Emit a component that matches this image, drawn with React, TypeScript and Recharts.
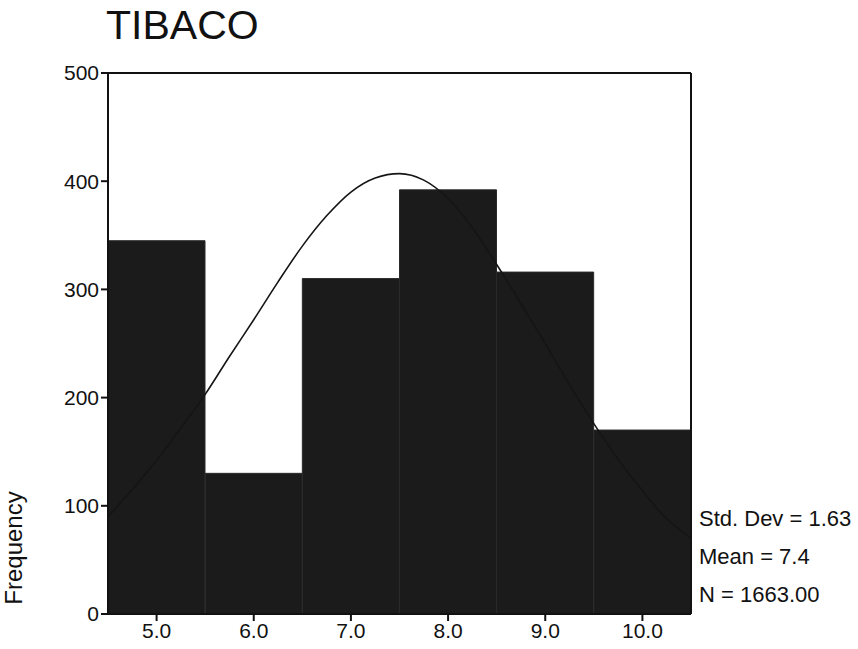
import React from 'react';
import { ComposedChart, Bar, Line, XAxis, YAxis, ReferenceLine } from 'recharts';

// histogram bins (class midpoints) and counts
const binLabels = ['5.0', '6.0', '7.0', '8.0', '9.0', '10.0'];
const binCounts = [345, 130, 310, 392, 316, 170];

// fitted normal curve
const curveX = [4.5, 4.75, 5.0, 5.25, 5.5, 5.75, 6.0, 6.25, 6.5, 6.75, 7.0, 7.25, 7.5, 7.75, 8.0, 8.25, 8.5, 8.75, 9.0, 9.25, 9.5, 9.75, 10.0, 10.25, 10.5];
const curveY = [90, 115, 142, 172, 203, 238, 272, 307, 340, 368, 390, 403, 407, 401, 384, 357, 323, 287, 250, 212, 176, 143, 114, 88, 70];

const yTicks = [0, 100, 200, 300, 400, 500];
const stats = ['Std. Dev = 1.63', 'Mean = 7.4', 'N = 1663.00'];

const bins = binLabels.map((bin, i) => ({ bin, count: binCounts[i] }));
const curve = curveX.map((x, i) => ({ x, y: curveY[i] }));

const font = '"Liberation Sans", Arial, sans-serif';
const tickStyle = { fontSize: 21, fill: '#111', fontFamily: font };

const App: React.FC = () => {
  return (
    <div style={{ position: 'absolute', left: 0, top: 0, width: 858, height: 649, background: '#fff', fontFamily: font }}>
      <div style={{ position: 'absolute', left: 106, top: 2, fontSize: 41, lineHeight: '47px', color: '#111' }}>TIBACO</div>
      <div
        style={{
          position: 'absolute', left: 14, top: 548, fontSize: 24, color: '#111',
          transform: 'translate(-50%, -50%) rotate(-90deg)', whiteSpace: 'nowrap',
        }}
      >
        Frequency
      </div>
      {stats.map((s, i) => (
        <div key={s} style={{ position: 'absolute', left: 699, top: 505 + i * 38, fontSize: 22, lineHeight: '27px', color: '#111', whiteSpace: 'nowrap' }}>
          {s}
        </div>
      ))}
      <ComposedChart
        width={858}
        height={649}
        data={bins}
        margin={{ top: 73, right: 167, left: 0, bottom: 0 }}
        barCategoryGap={0}
        barGap={0}
      >
        <XAxis
          xAxisId="bins"
          dataKey="bin"
          type="category"
          height={35}
          tick={tickStyle}
          tickSize={7}
          axisLine={{ stroke: '#111', strokeWidth: 2 }}
          tickLine={{ stroke: '#111', strokeWidth: 2 }}
          interval={0}
        />
        <XAxis xAxisId="curve" dataKey="x" type="number" domain={[4.5, 10.5]} hide allowDataOverflow />
        <YAxis
          domain={[0, 500]}
          ticks={yTicks}
          width={108}
          tick={tickStyle}
          tickSize={7}
          axisLine={{ stroke: '#111', strokeWidth: 2 }}
          tickLine={{ stroke: '#111', strokeWidth: 2 }}
          allowDataOverflow
        />
        <Bar xAxisId="bins" dataKey="count" fill="#1b1b1b" stroke="#2a2a2a" strokeWidth={1} isAnimationActive={false} />
        <Line
          xAxisId="curve"
          data={curve}
          dataKey="y"
          type="monotone"
          stroke="#151515"
          strokeWidth={1.6}
          dot={false}
          isAnimationActive={false}
        />
        <ReferenceLine xAxisId="curve" y={500} stroke="#111" strokeWidth={2} />
        <ReferenceLine xAxisId="curve" x={10.5} stroke="#111" strokeWidth={2} />
      </ComposedChart>
    </div>
  );
};

export default App;
